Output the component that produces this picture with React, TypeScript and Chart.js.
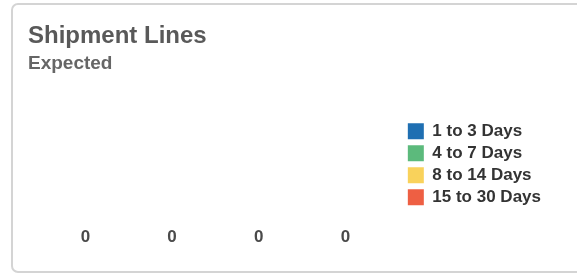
import React, { useEffect, useRef } from "react";
import { Chart, registerables } from "chart.js";

Chart.register(...registerables);

const categories: string[] = [""];
const seriesNames: string[] = ["1 to 3 Days", "4 to 7 Days", "8 to 14 Days", "15 to 30 Days"];
const seriesValues: number[][] = [[0], [0], [0], [0]];
const seriesColors: string[] = ["#1f6fb2", "#5cba7c", "#f9d25b", "#ee5f43"];

const FONT = "'Liberation Sans', Arial, sans-serif";

const valueLabels = {
  id: "valueLabels",
  afterDatasetsDraw(chart: any) {
    const ctx = chart.ctx;
    ctx.save();
    ctx.font = `bold 17px ${FONT}`;
    ctx.fillStyle = "#4a4a4a";
    ctx.textAlign = "center";
    ctx.textBaseline = "bottom";
    chart.data.datasets.forEach((ds: any, i: number) => {
      const meta = chart.getDatasetMeta(i);
      meta.data.forEach((el: any, j: number) => {
        ctx.fillText(String(ds.data[j]), el.x, el.y + 3);
      });
    });
    ctx.restore();
  },
};

export default function App() {
  const ref = useRef<HTMLCanvasElement | null>(null);
  useEffect(() => {
    if (!ref.current) return;
    const chart = new Chart(ref.current, {
      type: "bar",
      data: {
        labels: categories,
        datasets: seriesNames.map((name, i) => ({
          label: name,
          data: seriesValues[i],
          backgroundColor: "rgba(0,0,0,0)",
          borderWidth: 0,
          categoryPercentage: 0.925,
          barPercentage: 1,
        })),
      },
      options: {
        animation: false,
        responsive: false,
        maintainAspectRatio: false,
        layout: { padding: { left: 15, right: 22, bottom: 28, top: 8 } },
        scales: {
          x: { display: false },
          y: { display: false, min: 0, max: 10 },
        },
        plugins: {
          title: {
            display: true,
            text: "Shipment Lines",
            align: "start",
            color: "#595959",
            font: { family: FONT, size: 24, weight: "bold" },
            padding: { top: 9, bottom: 0 },
          },
          subtitle: {
            display: true,
            text: "Expected",
            align: "start",
            color: "#666666",
            font: { family: FONT, size: 19, weight: "bold" },
            padding: { top: 2, bottom: 10 },
          },
          legend: {
            display: true,
            position: "right",
            align: "center",
            fullSize: false,
            labels: {
              boxWidth: 16,
              boxHeight: 16,
              padding: 5,
              color: "#333333",
              font: { family: FONT, size: 17, weight: "bold" },
              generateLabels: (chart: any) =>
                chart.data.datasets.map((ds: any, i: number) => ({
                  text: ds.label,
                  fillStyle: seriesColors[i],
                  strokeStyle: seriesColors[i],
                  lineWidth: 0,
                  hidden: false,
                  datasetIndex: i,
                  fontColor: "#333333",
                })),
            },
          },
          tooltip: { enabled: false },
        },
      },
      plugins: [valueLabels],
    });
    return () => chart.destroy();
  }, []);

  return (
    <div
      style={{
        position: "absolute",
        left: 11,
        top: 3,
        width: 580,
        height: 270,
        border: "2px solid #d4d4d4",
        borderRadius: 7,
        boxSizing: "border-box",
        background: "#fff",
      }}
    >
      <canvas ref={ref} width={560} height={266} style={{ display: "block", width: 560, height: 266 }} />
    </div>
  );
}
